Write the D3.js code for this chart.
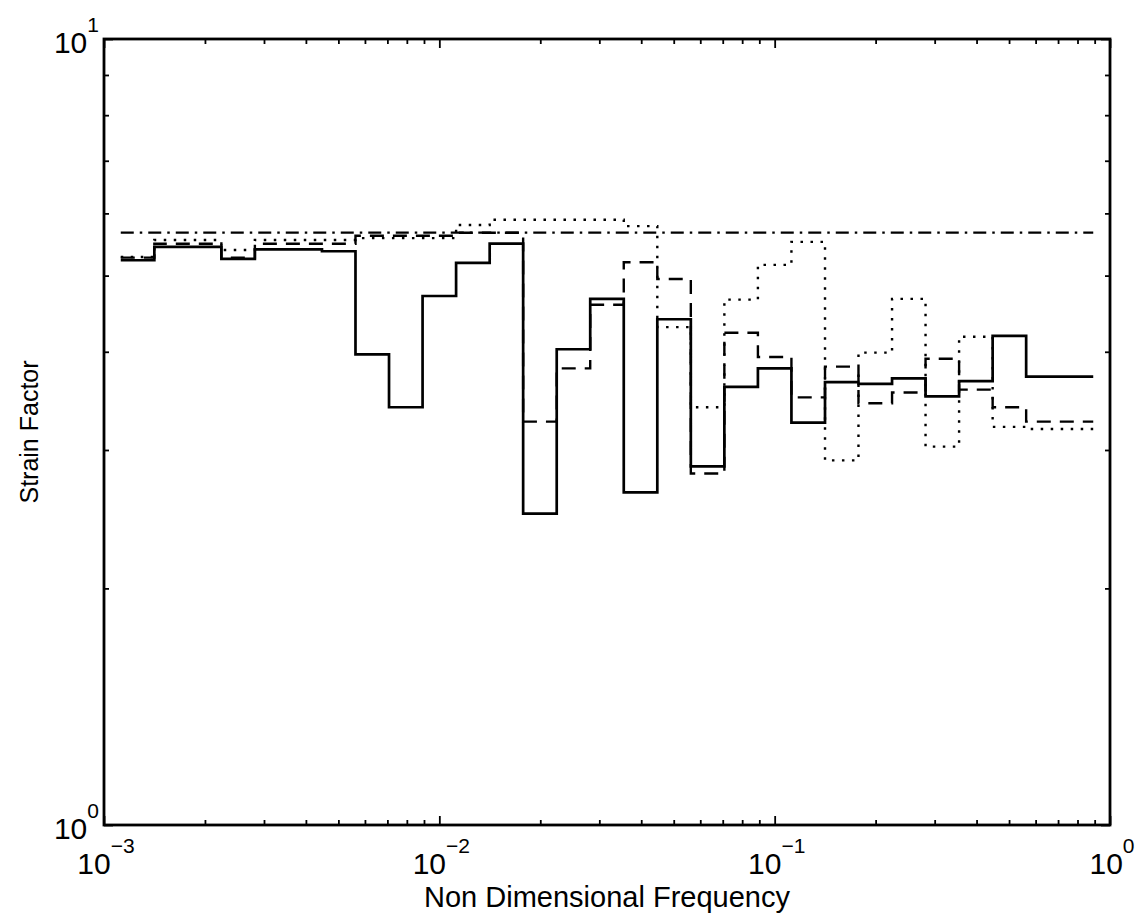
<!DOCTYPE html>
<html>
<head>
<meta charset="utf-8">
<script src="https://cdn.jsdelivr.net/npm/d3@7"></script>
<style>
    body {margin:0; background:white;}
    text {font-family:"Liberation Sans", Arial, Helvetica, sans-serif; fill:black;}
</style>
</head>
<body>
<svg id="chart"></svg>
<script>
var screen = {width:1140, height:918};
var margins = {top:39, right:30, bottom:93, left:104};

// band edges (non dimensional frequency), 29 bands
var bandEdges = [0.001122, 0.001413, 0.001778, 0.002239, 0.002818, 0.003548, 0.004467, 0.005623,
                 0.007079, 0.008913, 0.01122, 0.01413, 0.01778, 0.02239, 0.02818, 0.03548,
                 0.04467, 0.05623, 0.07079, 0.08913, 0.1122, 0.1413, 0.1778, 0.2239,
                 0.2818, 0.3548, 0.4467, 0.5623, 0.7079, 0.8913];

var solidValues = [5.23, 5.44, 5.44, 5.25, 5.40, 5.40, 5.37, 3.97, 3.40, 4.71,
                   5.19, 5.49, 2.49, 4.03, 4.67, 2.65, 4.40, 2.86, 3.61, 3.81,
                   3.25, 3.66, 3.64, 3.70, 3.51, 3.67, 4.19, 3.72, 3.72];

var dashedValues = [5.27, 5.49, 5.49, 5.27, 5.49, 5.49, 5.49, 5.62, 5.62, 5.62,
                    5.67, 5.67, 3.26, 3.81, 4.59, 5.20, 4.95, 2.80, 4.23, 3.94,
                    3.50, 3.83, 3.44, 3.55, 3.92, 3.58, 3.40, 3.26, 3.26];

var dottedValues = [5.28, 5.55, 5.55, 5.39, 5.55, 5.55, 5.55, 5.58, 5.58, 5.58,
                    5.80, 5.89, 5.89, 5.89, 5.89, 5.78, 4.30, 3.40, 4.66, 5.16,
                    5.52, 2.91, 3.99, 4.67, 3.03, 4.18, 3.21, 3.19, 3.19];

var dashDotValues = [5.67, 5.67, 5.67, 5.67, 5.67, 5.67, 5.67, 5.67, 5.67, 5.67,
                     5.67, 5.67, 5.67, 5.67, 5.67, 5.67, 5.67, 5.67, 5.67, 5.67,
                     5.67, 5.67, 5.67, 5.67, 5.67, 5.67, 5.67, 5.67, 5.67];

var xMajorTicks = [0.001, 0.01, 0.1, 1];
var xTickExponents = ["\u22123", "\u22122", "\u22121", "0"];
var yMajorTicks = [1, 10];
var yTickExponents = ["0", "1"];

var xTitle = "Non Dimensional Frequency";
var yTitle = "Strain Factor";

var width = screen.width - margins.left - margins.right;
var height = screen.height - margins.top - margins.bottom;

var xscale = d3.scaleLog()
                .domain([0.001, 1])
                .range([0, width]);

var yscale = d3.scaleLog()
                .domain([1, 10])
                .range([height, 0]);

var svg = d3.select("#chart")
    .attr("width", screen.width)
    .attr("height", screen.height);

svg.append("rect")
    .attr("width", screen.width)
    .attr("height", screen.height)
    .attr("fill", "white");

var graph = svg.append("g")
    .attr("id", "graph")
    .attr("transform", "translate(" + margins.left + "," + margins.top + ")");

// turn a list of band values into step points (last value held to the final edge)
var toSteps = function(values)
    {
        var pts = values.map(function(v, i) { return {f: bandEdges[i], v: v}; });
        pts.push({f: bandEdges[bandEdges.length - 1], v: values[values.length - 1]});
        return pts;
    };

var stepLine = d3.line()
    .x(function(d) { return xscale(d.f); })
    .y(function(d) { return yscale(d.v); })
    .curve(d3.curveStepAfter);

var series = [
    {name:"dashdot", values:dashDotValues, dash:"13,6,2.5,6", width:2.3},
    {name:"dotted",  values:dottedValues,  dash:"2.5,7.5",    width:2.4},
    {name:"dashed",  values:dashedValues,  dash:"14,9",       width:2.4},
    {name:"solid",   values:solidValues,   dash:null,         width:2.7}
];

graph.selectAll(".series")
    .data(series)
    .enter()
    .append("path")
    .attr("class", "series")
    .attr("d", function(s) { return stepLine(toSteps(s.values)); })
    .attr("fill", "none")
    .attr("stroke", "black")
    .attr("stroke-width", function(s) { return s.width; })
    .attr("stroke-dasharray", function(s) { return s.dash; });

// ticks on all four sides, pointing inward
var xMinor = xscale.ticks().filter(function(t) { return xMajorTicks.indexOf(t) < 0; });
var yMinor = yscale.ticks().filter(function(t) { return yMajorTicks.indexOf(t) < 0; });

var addAxis = function(axisFn, scale, values, size, transform)
    {
        var g = graph.append("g")
            .attr("class", "ticks")
            .attr("transform", transform)
            .call(axisFn(scale).tickValues(values).tickSize(-size).tickFormat(""));
        g.select(".domain").remove();
        g.selectAll("line").attr("stroke", "black").attr("stroke-width", 1.8);
    };

addAxis(d3.axisBottom, xscale, xMinor, 5, "translate(0," + height + ")");
addAxis(d3.axisBottom, xscale, xMajorTicks, 9, "translate(0," + height + ")");
addAxis(d3.axisTop, xscale, xMinor, 5, "translate(0,0)");
addAxis(d3.axisTop, xscale, xMajorTicks, 9, "translate(0,0)");
addAxis(d3.axisLeft, yscale, yMinor, 5, "translate(0,0)");
addAxis(d3.axisLeft, yscale, yMajorTicks, 9, "translate(0,0)");
addAxis(d3.axisRight, yscale, yMinor, 5, "translate(" + width + ",0)");
addAxis(d3.axisRight, yscale, yMajorTicks, 9, "translate(" + width + ",0)");

graph.append("rect")
    .attr("width", width)
    .attr("height", height)
    .attr("fill", "none")
    .attr("stroke", "black")
    .attr("stroke-width", 2.8);

// tick labels: 10 with a raised exponent
var xLabels = graph.selectAll(".xlabel")
    .data(xMajorTicks)
    .enter()
    .append("text")
    .attr("class", "xlabel")
    .attr("x", function(d) { return xscale(d) + 2; })
    .attr("y", height + 49)
    .attr("text-anchor", "middle")
    .style("font-size", "30px");
xLabels.append("tspan").text("10");
xLabels.append("tspan")
    .attr("dy", -21)
    .style("font-size", "21px")
    .text(function(d, i) { return xTickExponents[i]; });

var yLabels = graph.selectAll(".ylabel")
    .data(yMajorTicks)
    .enter()
    .append("text")
    .attr("class", "ylabel")
    .attr("x", -5)
    .attr("y", function(d) { return yscale(d) + 14; })
    .attr("text-anchor", "end")
    .style("font-size", "30px");
yLabels.append("tspan").text("10");
yLabels.append("tspan")
    .attr("dy", -21)
    .style("font-size", "21px")
    .text(function(d, i) { return yTickExponents[i]; });

graph.append("text")
    .attr("x", width / 2)
    .attr("y", height + 82)
    .attr("text-anchor", "middle")
    .style("font-size", "29px")
    .text(xTitle);

graph.append("text")
    .attr("transform", "translate(" + (38 - margins.left) + "," + (height / 2) + ") rotate(-90)")
    .attr("text-anchor", "middle")
    .style("font-size", "25px")
    .text(yTitle);
</script>
</body>
</html>
